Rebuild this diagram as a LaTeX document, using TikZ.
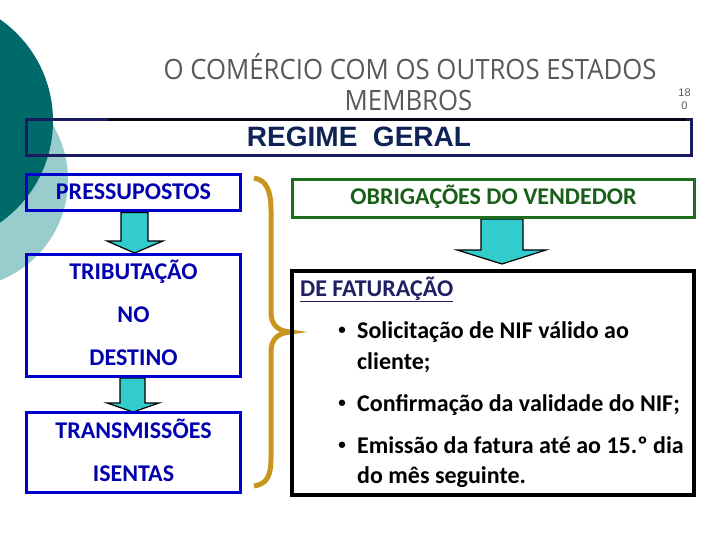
\documentclass[tikz,border=0pt]{standalone}
\usepackage{fontspec}
\setmainfont{Carlito}
\newfontfamily\titlef[FakeStretch=0.92]{Open Sans}
\newfontfamily\arialf{Liberation Sans}
\definecolor{darkteal}{RGB}{0,105,105}
\definecolor{lightteal}{RGB}{153,204,204}
\definecolor{titlegray}{RGB}{89,89,89}
\definecolor{navy}{RGB}{26,26,94}
\definecolor{regtext}{RGB}{15,35,87}
\definecolor{bbox}{RGB}{0,0,204}
\definecolor{btext}{RGB}{0,0,176}
\definecolor{gbox}{RGB}{30,110,30}
\definecolor{gtext}{RGB}{25,95,25}
\definecolor{faturacol}{RGB}{31,31,100}
\definecolor{arrowfill}{RGB}{51,204,204}
\definecolor{bracecol}{RGB}{200,150,30}
\begin{document}
\begin{tikzpicture}[x=1pt,y=-1pt,
  bluebox/.style={draw=bbox,line width=3pt,rectangle,inner sep=0pt,minimum width=214pt},
  bluetext/.style={anchor=base,text=btext,font=\bfseries\fontsize{24}{28}\selectfont,inner sep=0pt},
  bodytext/.style={anchor=base west,text=black,font=\bfseries\fontsize{24}{28}\selectfont,inner sep=0pt},
  bulletmark/.style={anchor=center,text=black,font=\bfseries\fontsize{15}{18}\selectfont,inner sep=0pt},
  blockarrow/.style={fill=arrowfill,draw=black,line width=1.2pt,line join=miter}]
\useasboundingbox (0,0) rectangle (720,540);
% background circles
\fill[lightteal] (-40,180) circle (108pt);
\fill[darkteal] (-71,121) circle (124pt);
% title
\node[anchor=base,text=titlegray,font=\titlef\fontsize{28}{34}\selectfont,inner sep=0pt] (t1) at (410,80) {O COMÉRCIO COM OS OUTROS ESTADOS};
\node[anchor=base,text=titlegray,font=\titlef\fontsize{28}{34}\selectfont,inner sep=0pt] (t2) at (408.5,111) {MEMBROS};
\node[anchor=base,text=titlegray,font=\arialf\fontsize{11}{13}\selectfont,inner sep=0pt] (pg1) at (684.5,97) {18};
\node[anchor=base,text=titlegray,font=\arialf\fontsize{11}{13}\selectfont,inner sep=0pt] (pg2) at (684.5,110) {0};
% regime geral
\node[draw=navy,line width=3pt,rectangle,inner sep=0pt,minimum width=665pt,minimum height=36pt] (reg) at (359,137.5) {};
\draw[line width=3pt,color=black!80!navy] (108,119.5) -- (686,119.5);
\node[anchor=base,text=regtext,font=\arialf\bfseries\fontsize{28}{32}\selectfont,inner sep=0pt] (regt) at (359,147) {REGIME\ \ GERAL};
% arrows
\draw[blockarrow] (121,212.5) -- (121,241) -- (107,241) -- (134.5,253) -- (163,241) -- (148,241) -- (148,212.5) -- cycle;
\draw[blockarrow] (120,378) -- (120,403) -- (107,403) -- (133,412) -- (159,403) -- (145,403) -- (145,378) -- cycle;
\draw[blockarrow] (481,219) -- (481,250) -- (457,250) -- (502,264) -- (546,250) -- (523,250) -- (523,219) -- cycle;
% left boxes
\node[bluebox,minimum height=36pt] (pre) at (133.5,192.5) {};
\node[bluetext] (pret) at (133.5,200) {PRESSUPOSTOS};
\node[bluebox,minimum height=122pt] (trib) at (133.5,315.5) {};
\node[bluetext] (trib1) at (133.5,279) {TRIBUTAÇÃO};
\node[bluetext] (trib2) at (133.5,322) {NO};
\node[bluetext] (trib3) at (133.5,365) {DESTINO};
\node[bluebox,minimum height=80pt] (trans) at (133.5,452.5) {};
\node[bluetext] (trans1) at (133.5,438) {TRANSMISSÕES};
\node[bluetext] (trans2) at (133.5,481) {ISENTAS};
% brace
\draw[bracecol,line width=5pt] (254,178) .. controls (267,180) and (271,192) .. (271,210) -- (271,312) .. controls (271,325) and (278,331) .. (290,332) .. controls (278,333) and (271,339) .. (271,352) -- (271,458) .. controls (271,476) and (267,484) .. (254,486);
% right boxes
\node[draw=gbox,line width=3pt,rectangle,inner sep=0pt,minimum width=402pt,minimum height=38pt] (obr) at (493.5,198.5) {};
\node[anchor=base,text=gtext,font=\bfseries\fontsize{24}{28}\selectfont,inner sep=0pt] (obrt) at (493.5,205) {OBRIGAÇÕES DO VENDEDOR};
\node[draw=black,line width=4pt,rectangle,inner sep=0pt,minimum width=402pt,minimum height=224pt] (fat) at (493,383) {};
\node[anchor=base west,text=faturacol,font=\bfseries\fontsize{24}{28}\selectfont,inner sep=0pt] (fatt) at (300,296) {\underline{DE FATURAÇÃO}};
\node[bulletmark] (b1) at (342,331) {•};
\node[bodytext] (l1) at (357,338) {Solicitação de NIF válido ao};
\node[bodytext] (l2) at (357,369) {cliente;};
\node[bulletmark] (b2) at (342,404) {•};
\node[bodytext] (l3) at (357,411) {Confirmação da validade do NIF;};
\node[bulletmark] (b3) at (342,446) {•};
\node[bodytext] (l4) at (357,453) {Emissão da fatura até ao 15.º dia};
\node[bodytext] (l5) at (357,483) {do mês seguinte.};
\end{tikzpicture}
\end{document}
